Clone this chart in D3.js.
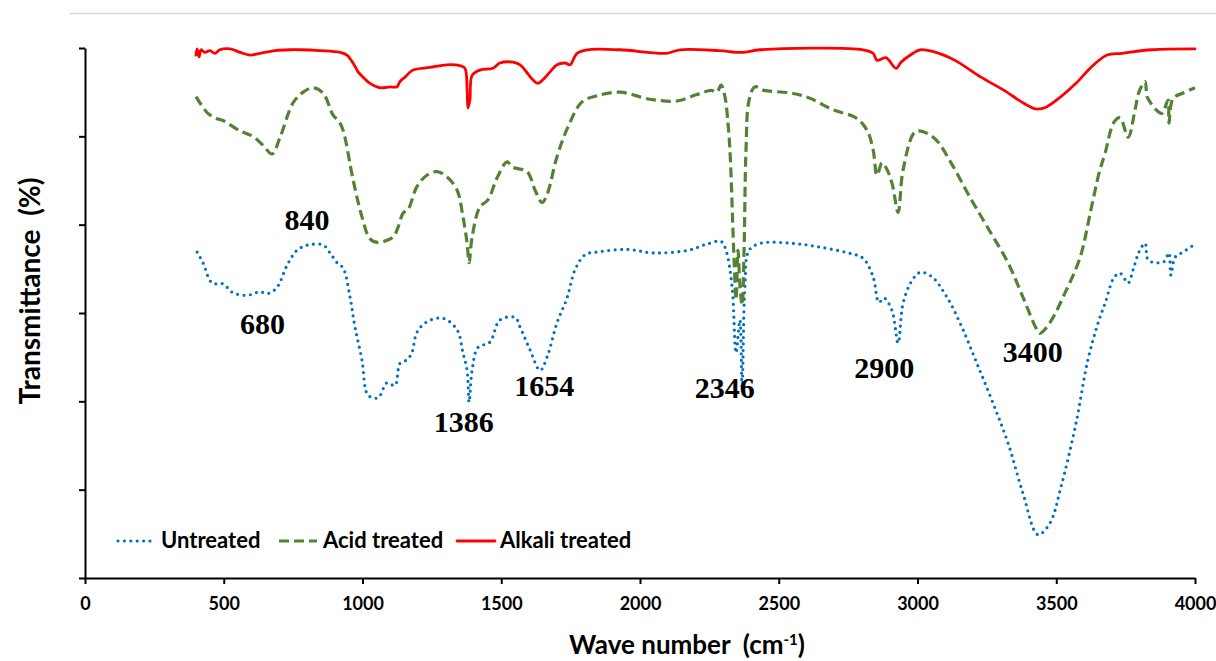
<!DOCTYPE html>
<html>
<head>
<meta charset="utf-8">
<script src="https://cdn.jsdelivr.net/npm/d3@7"></script>
<style>
  body { margin: 0; background: #fff; }
  svg { display: block; }
  text { white-space: pre; }
  .axis path, .axis line { stroke: #000; stroke-width: 2px; }
  .axis text { font-family: Lato, "Open Sans", sans-serif; font-weight: 700; font-size: 18px; fill: #000; }
</style>
</head>
<body>
<div class="chart"></div>
<script>
// wave numbers (cm-1) and transmittance readings, one pair of arrays per sample
const untreatedWn = [404, 425, 458, 497, 533, 584, 631, 659, 692, 728, 764, 804, 858, 883, 908, 930, 955, 973, 998, 1020,
    1056, 1088, 1117, 1135, 1160, 1178, 1196, 1232, 1290, 1341, 1362, 1377, 1384, 1395, 1416, 1459, 1495, 1550, 1568, 1604,
    1640, 1665, 1701, 1737, 1766, 1802, 1845, 1953, 2050, 2173, 2241, 2292, 2310, 2332, 2346, 2360, 2368, 2378, 2393, 2436,
    2544, 2641, 2750, 2804, 2840, 2861, 2879, 2908, 2930, 2948, 2977, 3009, 3052, 3106, 3160, 3214, 3272, 3326, 3380, 3434,
    3477, 3517, 3571, 3614, 3654, 3676, 3708, 3730, 3759, 3777, 3798, 3820, 3831, 3860, 3888, 3906, 3913, 3928, 3957, 4000];
const untreatedT = [36.9, 35.7, 33.4, 33.3, 32.3, 32.0, 32.4, 32.2, 32.9, 35.4, 37.1, 37.7, 37.7, 36.8, 35.7, 35.1, 31.8, 28.4, 24.7, 20.7,
    20.4, 22.1, 21.8, 24.3, 24.7, 25.5, 27.8, 29.0, 29.4, 28.1, 25.5, 23.5, 19.9, 23.5, 26.1, 26.7, 29.2, 29.5, 28.4, 25.8,
    23.5, 25.0, 28.9, 31.7, 34.9, 36.6, 36.9, 37.2, 36.8, 37.1, 37.8, 38.1, 37.1, 32.9, 25.5, 29.2, 21.6, 32.9, 37.1, 37.9,
    37.9, 37.5, 36.8, 36.2, 34.1, 31.2, 31.7, 30.3, 26.6, 31.1, 33.5, 34.6, 34.1, 31.8, 28.4, 24.3, 19.8, 15.3, 9.6, 4.9,
    6.2, 10.3, 17.5, 24.7, 29.2, 31.1, 34.0, 34.5, 33.4, 34.9, 36.9, 37.9, 36.0, 35.7, 35.8, 36.8, 34.3, 36.3, 36.9, 37.8];

const acidWn = [400, 443, 476, 497, 559, 605, 641, 674, 703, 750, 786, 822, 858, 894, 915, 930, 966, 998, 1027, 1056,
    1110, 1128, 1146, 1164, 1196, 1232, 1268, 1305, 1341, 1362, 1377, 1384, 1395, 1423, 1452, 1485, 1521, 1542, 1593, 1622,
    1647, 1665, 1701, 1741, 1791, 1845, 1928, 2036, 2133, 2202, 2256, 2277, 2292, 2306, 2317, 2324, 2339, 2346, 2353, 2360,
    2368, 2375, 2382, 2393, 2414, 2447, 2544, 2613, 2696, 2778, 2818, 2840, 2854, 2872, 2886, 2908, 2930, 2948, 2991, 3023,
    3067, 3121, 3189, 3258, 3326, 3380, 3427, 3441, 3477, 3532, 3586, 3625, 3654, 3676, 3708, 3730, 3759, 3784, 3798, 3820,
    3827, 3838, 3860, 3881, 3903, 3906, 3921, 3957, 4000];
const acidT = [54.5, 52.6, 52.0, 51.8, 50.6, 50.0, 49.0, 48.0, 49.9, 53.8, 55.0, 55.5, 54.9, 52.4, 51.7, 50.7, 45.1, 40.9, 38.4, 38.0,
    38.6, 39.7, 41.3, 41.7, 44.3, 45.6, 46.0, 45.4, 43.9, 40.9, 37.9, 35.7, 38.6, 42.0, 42.8, 45.3, 47.1, 46.5, 46.0, 43.9,
    42.5, 43.4, 47.7, 51.1, 53.9, 54.6, 55.0, 54.2, 54.0, 54.7, 55.2, 55.0, 55.8, 54.5, 51.5, 48.5, 36.0, 31.5, 37.1, 33.2,
    30.9, 37.1, 48.5, 54.1, 55.6, 55.2, 54.9, 54.3, 53.0, 52.1, 50.7, 48.5, 45.6, 47.0, 46.5, 44.7, 41.4, 46.2, 50.5, 50.5,
    49.6, 47.0, 43.1, 39.4, 35.7, 31.8, 28.3, 27.7, 28.9, 32.3, 36.3, 41.7, 45.8, 48.1, 51.6, 52.1, 49.9, 53.0, 55.0, 56.2,
    54.5, 53.9, 53.0, 52.6, 54.1, 51.5, 54.3, 54.9, 55.5];

const alkaliWn = [400, 404, 411, 418, 432, 450, 468, 486, 523, 559, 595, 631, 685, 739, 775, 847, 919, 944, 966, 984,
    1002, 1027, 1063, 1099, 1124, 1135, 1153, 1182, 1243, 1304, 1351, 1369, 1377, 1380, 1387, 1395, 1423, 1470, 1495, 1542,
    1568, 1593, 1614, 1632, 1650, 1676, 1701, 1730, 1748, 1773, 1809, 1928, 2094, 2144, 2285, 2368, 2432, 2804, 2840, 2854,
    2886, 2923, 2941, 2984, 3009, 3067, 3135, 3229, 3312, 3380, 3427, 3463, 3517, 3571, 3625, 3683, 3737, 3845, 4000];
const alkaliT = [59.2, 59.9, 59.0, 59.8, 59.5, 59.7, 59.4, 59.8, 59.9, 59.5, 59.2, 59.4, 59.7, 59.8, 59.8, 59.7, 59.5, 59.2, 58.3, 57.3,
    56.7, 56.0, 55.5, 55.6, 55.6, 56.2, 56.7, 57.5, 57.8, 58.1, 58.0, 57.7, 55.2, 53.2, 54.1, 56.9, 57.5, 57.7, 58.3, 58.4,
    58.1, 57.2, 56.4, 56.0, 56.4, 57.3, 58.1, 58.3, 58.1, 59.4, 59.8, 59.8, 59.4, 59.8, 59.7, 59.5, 59.8, 59.8, 59.4, 58.6,
    58.9, 57.7, 58.4, 59.4, 59.8, 59.5, 58.6, 56.7, 55.2, 53.8, 53.1, 53.3, 54.5, 56.0, 57.8, 59.2, 59.4, 59.8, 59.9];

const seriesNames = ['Untreated', 'Acid treated', 'Alkali treated'];
const xTicks = [0, 500, 1000, 1500, 2000, 2500, 3000, 3500, 4000];
const yTicks = [0, 10, 20, 30, 40, 50, 60];

// peak labels: wave number text and where it sits (wn, transmittance of baseline)
const peakLabels = ['680', '840', '1386', '1654', '2346', '2900', '3400'];
const peakWn = [640, 800, 1365, 1655, 2305, 2880, 3415];
const peakT = [27.6, 39.4, 16.5, 20.6, 20.4, 22.6, 24.5];

const svg_width = 1216;
const svg_height = 661;
const chart_margin = { top: 48, right: 21, bottom: 83, left: 85 };
const chart_width = svg_width - chart_margin.left - chart_margin.right;
const chart_height = svg_height - chart_margin.top - chart_margin.bottom;

const svg = d3.select('.chart')
    .append('svg')
    .attr('width', svg_width)
    .attr('height', svg_height);

// faint frame line at the top
svg.append('line')
    .attr('x1', 70).attr('x2', svg_width)
    .attr('y1', 13.5).attr('y2', 13.5)
    .style('stroke', '#d9d9d9')
    .style('stroke-width', 1.5);

const g = svg.append('g')
    .attr('transform', `translate(${chart_margin.left},${chart_margin.top})`);

const xScale = d3.scaleLinear([0, 4000], [0, chart_width]);
const yScale = d3.scaleLinear([0, 60], [chart_height, 0]);

const styles = [
    { color: '#0070C0', width: 3.2, dash: '0 6.4', cap: 'round' },
    { color: '#548235', width: 3.2, dash: '10 5', cap: 'butt' },
    { color: '#FF0000', width: 2.8, dash: null, cap: 'round' }
];

const seriesData = [
    untreatedWn.map((w, i) => ({ wn: w, t: untreatedT[i] })),
    acidWn.map((w, i) => ({ wn: w, t: acidT[i] })),
    alkaliWn.map((w, i) => ({ wn: w, t: alkaliT[i] }))
];

const line = d3.line()
    .x(d => xScale(d.wn))
    .y(d => yScale(d.t))
    .curve(d3.curveCatmullRom.alpha(0.5));

// axes
const xAxis = d3.axisBottom(xScale)
    .tickValues(xTicks)
    .tickFormat(d3.format('d'))
    .tickSizeInner(6)
    .tickSizeOuter(0)
    .tickPadding(13);
g.append('g')
    .attr('class', 'x axis')
    .attr('transform', `translate(0,${chart_height})`)
    .call(xAxis);

const yAxis = d3.axisLeft(yScale)
    .tickValues(yTicks)
    .tickFormat('')
    .tickSizeInner(6)
    .tickSizeOuter(0);
g.append('g')
    .attr('class', 'y axis')
    .call(yAxis);

// spectra
g.selectAll('.spectrum')
    .data(seriesData)
    .enter()
    .append('path')
    .attr('class', 'spectrum')
    .attr('d', line)
    .style('fill', 'none')
    .style('stroke', (d, i) => styles[i].color)
    .style('stroke-width', (d, i) => styles[i].width)
    .style('stroke-dasharray', (d, i) => styles[i].dash)
    .style('stroke-linecap', (d, i) => styles[i].cap)
    .style('stroke-linejoin', 'round');

// peak labels
g.selectAll('.peak')
    .data(peakLabels)
    .enter()
    .append('text')
    .attr('class', 'peak')
    .attr('x', (d, i) => xScale(peakWn[i]))
    .attr('y', (d, i) => yScale(peakT[i]))
    .attr('text-anchor', 'middle')
    .style('font-family', '"Liberation Serif", "Times New Roman", serif')
    .style('font-weight', 'bold')
    .style('font-size', '30px')
    .text(d => d);

// legend
const legendX = [118, 279, 457];
const legendTextX = [161, 323, 500];
const legend = svg.append('g').attr('class', 'legend');
seriesNames.forEach((name, i) => {
    legend.append('line')
        .attr('x1', legendX[i]).attr('x2', legendX[i] + 38)
        .attr('y1', 541).attr('y2', 541)
        .style('stroke', styles[i].color)
        .style('stroke-width', styles[i].width)
        .style('stroke-dasharray', styles[i].dash)
        .style('stroke-linecap', styles[i].cap);
    legend.append('text')
        .attr('x', legendTextX[i])
        .attr('y', 548)
        .style('font-family', 'Lato, "Open Sans", sans-serif')
        .style('font-weight', 700)
        .style('font-size', '22px')
        .text(name);
});

// axis titles
const xTitle = svg.append('text')
    .attr('x', 687)
    .attr('y', 654)
    .attr('text-anchor', 'middle')
    .style('font-family', 'Lato, "Open Sans", sans-serif')
    .style('font-weight', 700)
    .style('font-size', '26px');
xTitle.append('tspan').text('Wave number  (cm');
xTitle.append('tspan').attr('dy', -9).style('font-size', '15px').text('-1');
xTitle.append('tspan').attr('dy', 9).text(')');

svg.append('text')
    .attr('transform', 'translate(40,291) rotate(-90)')
    .attr('text-anchor', 'middle')
    .style('font-family', 'Lato, "Open Sans", sans-serif')
    .style('font-weight', 700)
    .style('font-size', '28px')
    .text('Transmittance  (%)');
</script>
</body>
</html>
